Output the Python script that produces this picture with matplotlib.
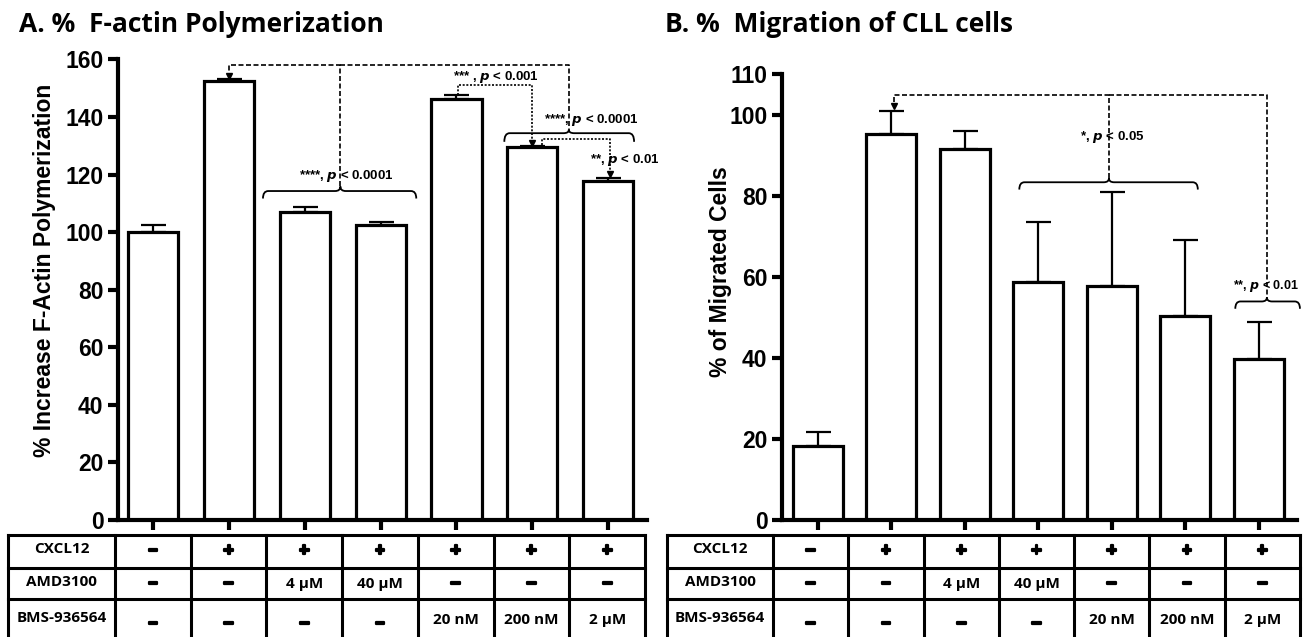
import numpy as np
import matplotlib.pyplot as plt
import matplotlib.patheffects as pe
from matplotlib.path import Path
from matplotlib.patches import PathPatch

plt.rcParams['mathtext.fontset'] = 'custom'
plt.rcParams['mathtext.bfit'] = 'Liberation Sans Narrow:italic:bold'

# ---- data ----
row_labels = ['CXCL12', 'AMD3100', 'BMS-936564']
cxcl12 = ['−', '+', '+', '+', '+', '+', '+']
amd3100 = ['−', '−', '4 µM', '40 µM', '−', '−', '−']
bms936564 = ['−', '−', '−', '−', '20 nM', '200 nM', '2 µM']

factin_mean = [100.0, 152.6, 107.0, 102.6, 146.4, 129.6, 117.7]
factin_err = [2.6, 0.6, 1.7, 0.9, 1.2, 0.5, 1.2]
factin_ticks = [0, 20, 40, 60, 80, 100, 120, 140, 160]

migr_mean = [18.3, 95.2, 91.4, 58.7, 57.8, 50.4, 39.8]
migr_err = [3.3, 5.6, 4.6, 14.8, 23.2, 18.7, 9.0]
migr_ticks = [0, 20, 40, 60, 80, 100, 110]

W, H = 1305, 637
fig = plt.figure(figsize=(W / 100, H / 100), dpi=100)

NARROW = ['Liberation Sans Narrow', 'Liberation Sans', 'DejaVu Sans']
ARIAL = ['Liberation Sans', 'DejaVu Sans']
CAL = ['Open Sans', 'DejaVu Sans']


def px_axes(left, top, right, bottom):
    return fig.add_axes([left / W, 1 - bottom / H, (right - left) / W, (bottom - top) / H])


def bar_panel(ax, means, errs, ticks, xlim, width):
    x = np.arange(len(means))
    ax.bar(x, means, width=width, color='white', edgecolor='black', linewidth=2.3, zorder=2)
    ax.errorbar(x, means, yerr=[np.zeros(len(errs)), errs], fmt='none', ecolor='black',
                elinewidth=1.6, capsize=9, capthick=1.6, zorder=3)
    ax.set_xlim(*xlim)
    ax.set_ylim(0, ticks[-1])
    ax.set_yticks(ticks)
    ax.set_xticks(x)
    ax.set_xticklabels([])
    for s in ['top', 'right']:
        ax.spines[s].set_visible(False)
    for s in ['left', 'bottom']:
        ax.spines[s].set_linewidth(3)
    ax.tick_params(axis='both', direction='out', length=7, width=3)
    for lab in ax.get_yticklabels():
        lab.set_family(NARROW)
        lab.set_weight('bold')
        lab.set_fontsize(16.5)


def brace(ax, x0, x1, y, drop, peak, xc, r=0.07):
    verts = [(x0, y - drop), (x0, y), (x0 + r, y), (xc - r, y), (xc, y), (xc, y + peak),
             (xc, y), (xc + r, y), (x1 - r, y), (x1, y), (x1, y - drop)]
    codes = [Path.MOVETO, Path.CURVE3, Path.CURVE3, Path.LINETO, Path.CURVE3, Path.CURVE3,
             Path.CURVE3, Path.CURVE3, Path.LINETO, Path.CURVE3, Path.CURVE3]
    ax.add_patch(PathPatch(Path(verts, codes), facecolor='none', edgecolor='black',
                           linewidth=1.3, clip_on=False))


def link(ax, xs, ys, style='--', arrow=True):
    ax.plot(xs, ys, color='black', linestyle=style, linewidth=1.2, clip_on=False,
            dashes=(3, 1.5) if style == '--' else (1.2, 1.0))
    if arrow:
        ax.plot(xs[-1], ys[-1], marker='v', color='black', markersize=5, clip_on=False)


def label(ax, x, y, stars, p, size=9.5):
    ax.text(x, y, stars + r', $\mathbfit{p}$ < ' + p, ha='center', va='center',
            fontsize=size, fontweight='bold', family=NARROW, clip_on=False)


# ---- panel A ----
axA = px_axes(118, 59.5, 647, 520)
bar_panel(axA, factin_mean, factin_err, factin_ticks, (-0.46, 6.51), 0.66)
brace(axA, 1.45, 3.47, 114.3, 2.6, 1.6, 2.47)
label(axA, 2.55, 119.4, '****', '0.0001')
link(axA, [2.47, 2.47, 1.0, 1.0], [115.9, 158.2, 158.2, 154.3])
link(axA, [2.47, 5.48, 5.48], [158.2, 158.2, 135.6], arrow=False)
brace(axA, 4.63, 6.34, 134.4, 3.0, 1.2, 5.48)
label(axA, 5.78, 138.9, '****', '0.0001')
link(axA, [4.02, 4.02, 5.0, 5.0], [147.8, 151.0, 151.0, 131.0], style=':')
label(axA, 4.52, 153.9, '*** ', '0.001')
link(axA, [5.13, 5.13, 6.02, 6.02], [130.4, 132.3, 132.3, 120.3], style=':')
label(axA, 6.22, 125.0, '**', '0.01')
fig.text(45 / W, 1 - 270 / H, '% Increase F-Actin Polymerization', rotation=90,
         ha='center', va='center', fontsize=16.5, fontweight='bold', family=ARIAL)

# ---- panel B ----
axB = px_axes(782, 74, 1297, 520)
bar_panel(axB, migr_mean, migr_err, migr_ticks, (-0.49, 6.52), 0.68)
brace(axB, 2.74, 5.17, 83.3, 1.8, 1.0, 3.96)
label(axB, 4.0, 94.4, '*', '0.05')
link(axB, [3.96, 3.96, 1.03, 1.03], [84.3, 104.8, 104.8, 102.0])
link(axB, [3.96, 6.11, 6.11], [104.8, 104.8, 54.9], arrow=False)
brace(axB, 5.68, 6.56, 53.9, 1.8, 1.0, 6.11)
label(axB, 6.1, 57.8, '**', '0.01', size=9)
fig.text(720 / W, 1 - 272 / H, '% of Migrated Cells', rotation=90,
         ha='center', va='center', fontsize=16.5, fontweight='bold', family=ARIAL)

# ---- titles ----
fig.text(19 / W, 1 - 24 / H, 'A. %  F-actin Polymerization', ha='left', va='center',
         fontsize=19, fontweight='bold', family=CAL)
fig.text(665 / W, 1 - 24 / H, 'B. %  Migration of CLL cells', ha='left', va='center',
         fontsize=19, fontweight='bold', family=CAL)

# ---- condition tables ----
tab = fig.add_axes([0, 0, 1, 1])
tab.set_xlim(0, W)
tab.set_ylim(H, 0)
tab.axis('off')
rows = [cxcl12, amd3100, bms936564]
row_edges = [535, 568, 599, 645]
row_text_y = [551, 584, 620]
thick = [pe.withStroke(linewidth=1.6, foreground='black')]


def cond_table(x0, xl, x1):
    ncol = len(cxcl12)
    cw = (x1 - xl) / ncol
    edges = [x0, xl] + [xl + cw * (i + 1) for i in range(ncol)]
    for y in row_edges:
        tab.plot([x0, x1], [y, y], color='black', linewidth=2.2, clip_on=False)
    for x in edges:
        tab.plot([x, x], [row_edges[0], row_edges[-1]], color='black', linewidth=2.2, clip_on=False)
    for r, (name, vals) in enumerate(zip(row_labels, rows)):
        tab.text((x0 + xl) / 2, row_text_y[r] - 2, name, ha='center', va='center',
                 fontsize=11, fontweight='bold', family=CAL)
        for c, v in enumerate(vals):
            sign = v in ('−', '+')
            yy = row_text_y[r] + (4 if v == '−' and r == 2 else 0)
            tab.text(xl + cw * (c + 0.5), yy, v, ha='center', va='center',
                     fontsize=13 if sign else 11, fontweight='bold', family=CAL,
                     path_effects=thick if sign else None)


cond_table(8, 115, 645)
cond_table(667, 773, 1300)

fig.savefig('out.png', dpi=100)
